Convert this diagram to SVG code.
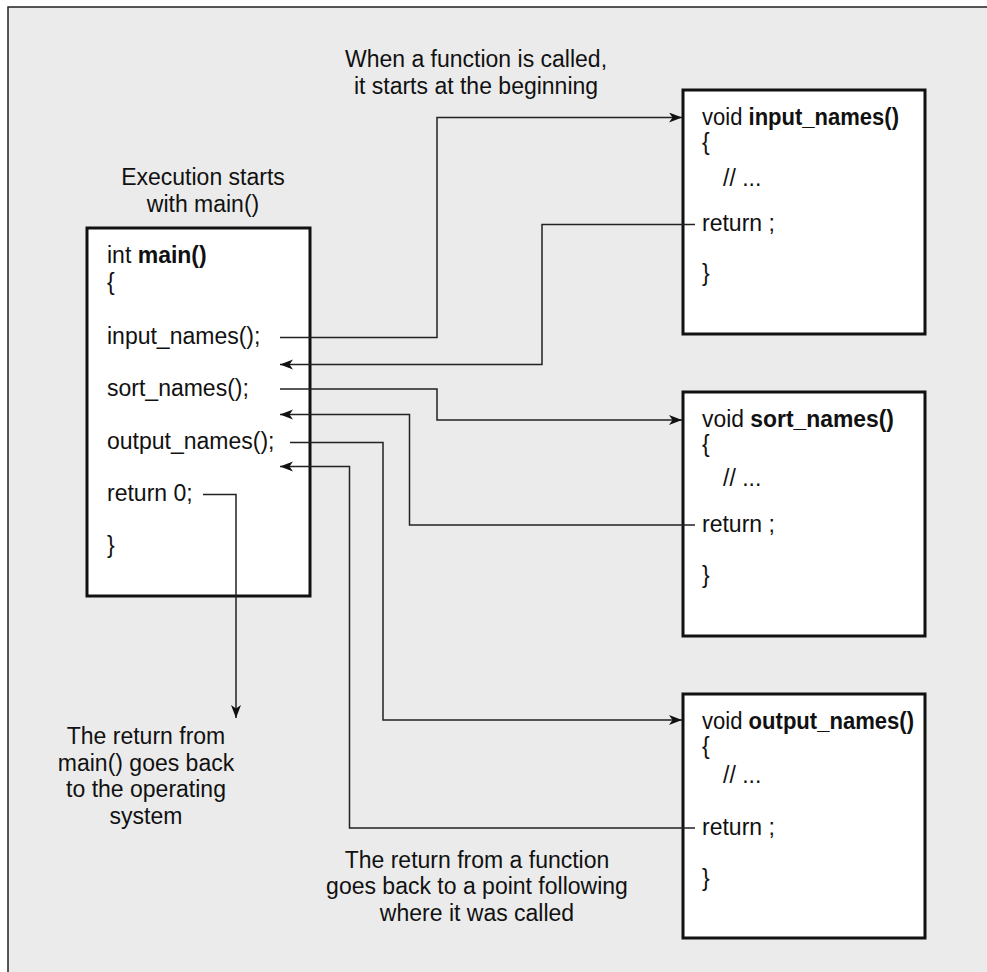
<svg xmlns="http://www.w3.org/2000/svg" width="987" height="972" viewBox="0 0 987 972">
  <style>
    .frame { fill: #ebebeb; }
    .edge { stroke: #222; stroke-width: 1.5; fill: none; }
    .box { fill: #ffffff; stroke: #111; stroke-width: 3; }
    .conn { fill: none; stroke: #222; stroke-width: 1.5; }
    text { font-family: "Liberation Sans", Arial, sans-serif; font-size: 23px; fill: #111; }
    .note { text-anchor: middle; }
    .b { font-weight: bold; }
  </style>
  <defs>
    <marker id="arrow" markerUnits="userSpaceOnUse" markerWidth="14" markerHeight="12" refX="13" refY="5" orient="auto">
      <path d="M0,0 L13,5 L0,10 L3.5,5 z" fill="#111"/>
    </marker>
  </defs>

  <!-- panel background with its top and left rules -->
  <rect class="frame" x="8" y="7" width="979" height="965"/>
  <path class="edge" d="M8,972 V7 H987"/>

  <!-- captions -->
  <g id="caption-call">
    <text class="note" x="476" y="67">When a function is called,</text>
    <text class="note" x="476" y="94">it starts at the beginning</text>
  </g>
  <g id="caption-start">
    <text class="note" x="203" y="185">Execution starts</text>
    <text class="note" x="203" y="212">with main()</text>
  </g>
  <g id="caption-os">
    <text class="note" x="146" y="744">The return from</text>
    <text class="note" x="146" y="771">main() goes back</text>
    <text class="note" x="146" y="797">to the operating</text>
    <text class="note" x="146" y="824">system</text>
  </g>
  <g id="caption-return">
    <text class="note" x="477" y="868">The return from a function</text>
    <text class="note" x="477" y="894">goes back to a point following</text>
    <text class="note" x="477" y="921">where it was called</text>
  </g>

  <!-- main() -->
  <g id="main">
    <rect class="box" x="87" y="228" width="223" height="368"/>
    <text x="107" y="263">int <tspan class="b">main()</tspan></text>
    <text x="107" y="290">{</text>
    <text x="107" y="344">input_names();</text>
    <text x="107" y="396">sort_names();</text>
    <text x="107" y="449">output_names();</text>
    <text x="107" y="501">return 0;</text>
    <text x="107" y="553">}</text>
  </g>

  <!-- input_names() -->
  <g id="input_names">
    <rect class="box" x="683" y="90" width="242" height="244"/>
    <text x="702" y="125" textLength="197" lengthAdjust="spacingAndGlyphs">void <tspan class="b">input_names()</tspan></text>
    <text x="702" y="150">{</text>
    <text x="723" y="186">// ...</text>
    <text x="702" y="231">return ;</text>
    <text x="702" y="281">}</text>
  </g>

  <!-- sort_names() -->
  <g id="sort_names">
    <rect class="box" x="683" y="392" width="242" height="244"/>
    <text x="702" y="427" textLength="192" lengthAdjust="spacingAndGlyphs">void <tspan class="b">sort_names()</tspan></text>
    <text x="702" y="452">{</text>
    <text x="723" y="486">// ...</text>
    <text x="702" y="532">return ;</text>
    <text x="702" y="583">}</text>
  </g>

  <!-- output_names() -->
  <g id="output_names">
    <rect class="box" x="683" y="694" width="242" height="244"/>
    <text x="702" y="729" textLength="212" lengthAdjust="spacingAndGlyphs">void <tspan class="b">output_names()</tspan></text>
    <text x="702" y="754">{</text>
    <text x="723" y="783">// ...</text>
    <text x="702" y="835">return ;</text>
    <text x="702" y="886">}</text>
  </g>

  <!-- calls and returns -->
  <g id="connectors">
    <path class="conn" d="M280,337.5 H437 V117.5 H682" marker-end="url(#arrow)"/>
    <path class="conn" d="M695,224.5 H542 V364.5 H280" marker-end="url(#arrow)"/>
    <path class="conn" d="M280,389 H437 V420 H682" marker-end="url(#arrow)"/>
    <path class="conn" d="M695,525 H409.5 V414.5 H280" marker-end="url(#arrow)"/>
    <path class="conn" d="M290,442.5 H383 V720 H682" marker-end="url(#arrow)"/>
    <path class="conn" d="M695,828 H349.5 V466.5 H280" marker-end="url(#arrow)"/>
    <path class="conn" d="M203,494.5 H236 V718" marker-end="url(#arrow)"/>
  </g>
</svg>
